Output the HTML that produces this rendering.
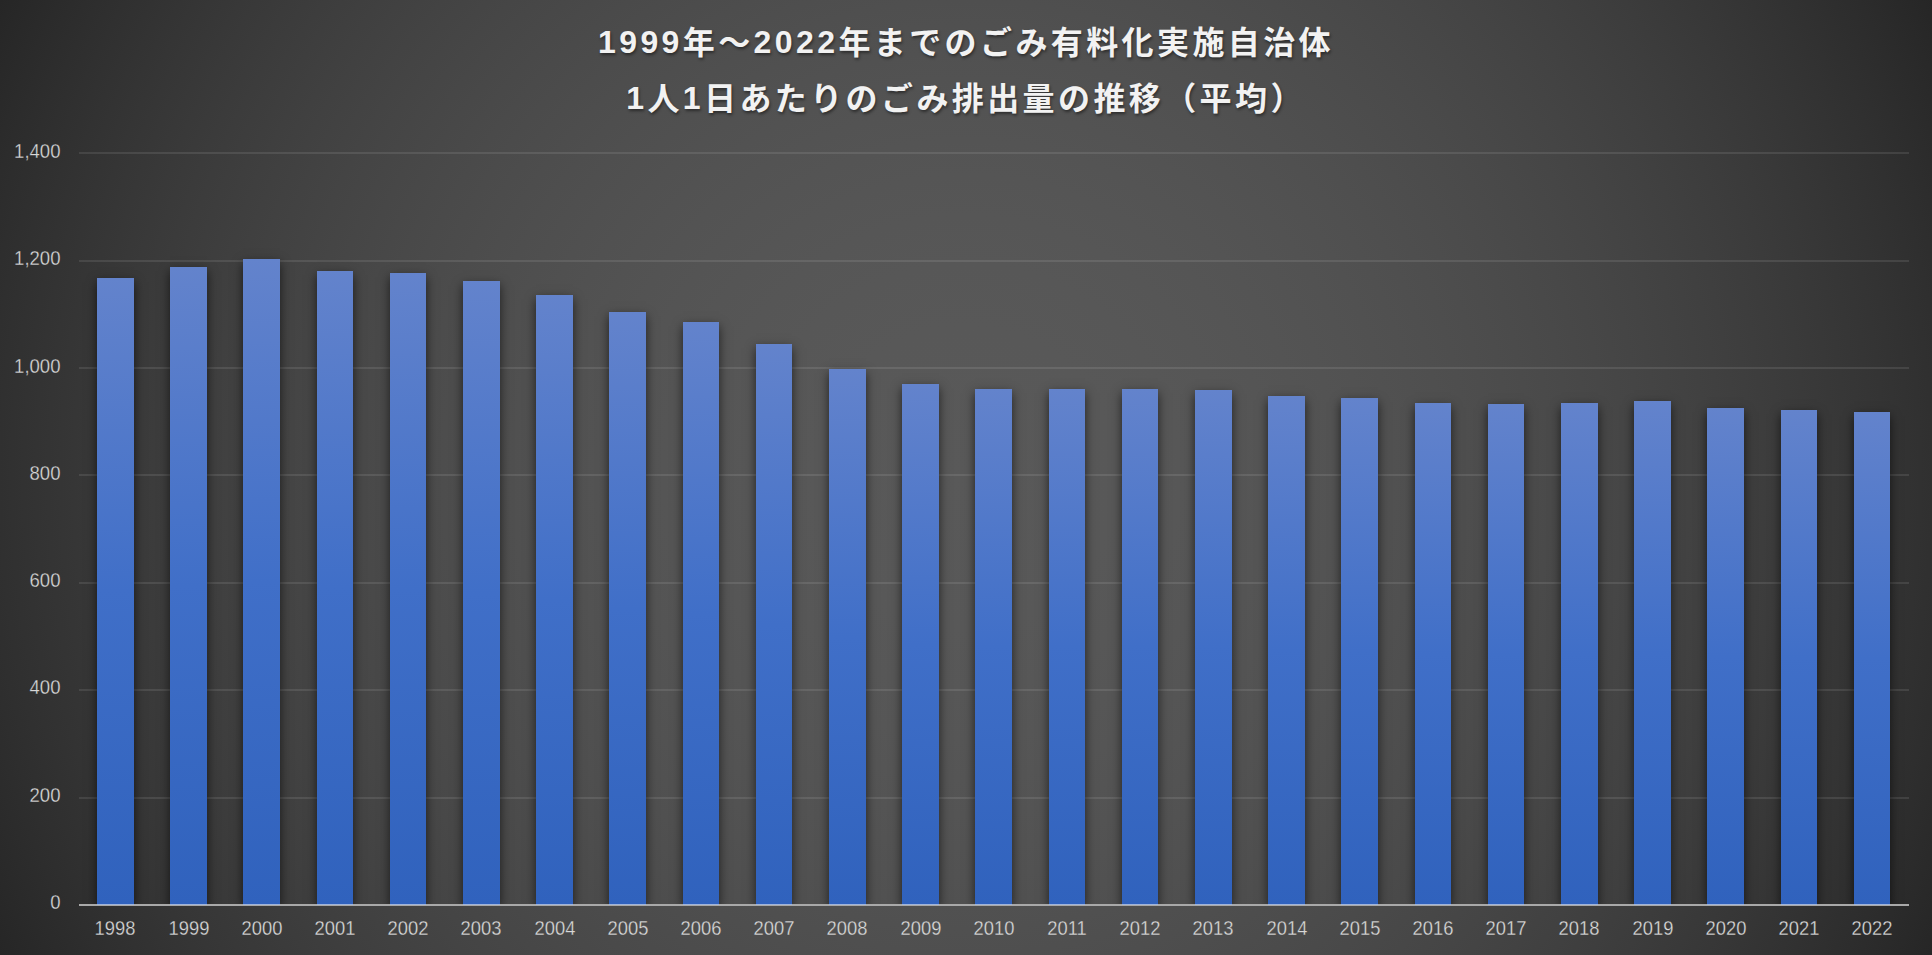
<!DOCTYPE html>
<html lang="ja">
<head>
<meta charset="utf-8">
<title>1999年～2022年までのごみ有料化実施自治体 1人1日あたりのごみ排出量の推移（平均）</title>
<style>
html,body{margin:0;padding:0;}
body{width:1932px;height:955px;overflow:hidden;background:#262626;font-family:"Liberation Sans","Noto Sans CJK JP",sans-serif;}
#chart{position:absolute;left:0;top:0;width:1932px;height:955px;overflow:hidden;
 background:radial-gradient(circle 1077.6px at 966px 477.5px, rgb(89,89,89) 0.0px, rgb(88,88,88) 150.9px, rgb(87,87,87) 213.4px, rgb(86,86,86) 261.3px, rgb(85,85,85) 301.8px, rgb(84,84,84) 337.4px, rgb(83,83,83) 369.6px, rgb(82,82,82) 399.2px, rgb(81,81,81) 426.8px, rgb(80,80,80) 452.7px, rgb(79,79,79) 477.2px, rgb(78,78,78) 500.4px, rgb(77,77,77) 522.7px, rgb(76,76,76) 544.0px, rgb(75,75,75) 564.6px, rgb(74,74,74) 584.4px, rgb(73,73,73) 603.6px, rgb(72,72,72) 622.1px, rgb(71,71,71) 640.2px, rgb(70,70,70) 657.7px, rgb(69,69,69) 674.8px, rgb(68,68,68) 691.5px, rgb(67,67,67) 707.7px, rgb(66,66,66) 723.6px, rgb(65,65,65) 739.2px, rgb(64,64,64) 754.5px, rgb(63,63,63) 769.4px, rgb(62,62,62) 784.0px, rgb(61,61,61) 798.4px, rgb(60,60,60) 812.6px, rgb(59,59,59) 826.5px, rgb(58,58,58) 840.1px, rgb(57,57,57) 853.6px, rgb(56,56,56) 866.8px, rgb(55,55,55) 879.8px, rgb(54,54,54) 892.7px, rgb(53,53,53) 905.3px, rgb(52,52,52) 917.8px, rgb(51,51,51) 930.2px, rgb(50,50,50) 942.3px, rgb(49,49,49) 954.3px, rgb(48,48,48) 966.2px, rgb(47,47,47) 977.9px, rgb(46,46,46) 989.5px, rgb(45,45,45) 1000.9px, rgb(44,44,44) 1012.2px, rgb(43,43,43) 1023.4px, rgb(42,42,42) 1034.5px, rgb(41,41,41) 1045.4px, rgb(40,40,40) 1056.2px, rgb(39,39,39) 1067.0px, rgb(38,38,38) 1077.6px);}
.grid{position:absolute;left:79px;width:1830px;height:2px;background:rgba(242,242,242,0.10);}
#plot{position:absolute;left:0;top:0;width:1932px;height:905px;overflow:hidden;}
.bar{position:absolute;background:linear-gradient(to bottom,#6383cc 0%,#406fc8 50%,#3062bd 100%);
 box-shadow:0 4px 10px rgba(0,0,0,0.62);}
.title b{position:relative;top:-1px;font-weight:bold;}
.foot{position:absolute;top:904px;height:1px;background:#9fb4dd;}
.axis{position:absolute;left:79px;top:904px;width:1830px;height:2px;background:#a9a9a9;}
.yl{position:absolute;left:0;width:60.5px;text-align:right;font-size:18px;line-height:20px;height:20px;color:#d8d8d8;transform:scale(1.03,1.12);transform-origin:100% 50%;white-space:nowrap;}
.xl{position:absolute;top:918px;width:74px;text-align:center;font-size:18px;line-height:20px;height:20px;color:#d8d8d8;transform:scale(1.02,1.12);transform-origin:50% 50%;white-space:nowrap;}
.title{position:absolute;left:0;width:1932px;text-align:center;font-weight:bold;font-size:32px;line-height:40px;height:40px;letter-spacing:3.4px;color:#f2f2f2;white-space:nowrap;
 text-shadow:1px 2px 3px rgba(0,0,0,0.45);}
</style>
</head>
<body>
<div id="chart">
<div class="grid" style="top:152px"></div>
<div class="grid" style="top:260px"></div>
<div class="grid" style="top:367px"></div>
<div class="grid" style="top:474px"></div>
<div class="grid" style="top:582px"></div>
<div class="grid" style="top:689px"></div>
<div class="grid" style="top:797px"></div>
<div id="plot">
<div class="bar" style="left:97px;top:278px;width:37px;height:627px"></div>
<div class="bar" style="left:170px;top:267px;width:37px;height:638px"></div>
<div class="bar" style="left:243px;top:259px;width:37px;height:646px"></div>
<div class="bar" style="left:317px;top:271px;width:36px;height:634px"></div>
<div class="bar" style="left:390px;top:273px;width:36px;height:632px"></div>
<div class="bar" style="left:463px;top:281px;width:37px;height:624px"></div>
<div class="bar" style="left:536px;top:295px;width:37px;height:610px"></div>
<div class="bar" style="left:609px;top:312px;width:37px;height:593px"></div>
<div class="bar" style="left:683px;top:322px;width:36px;height:583px"></div>
<div class="bar" style="left:756px;top:344px;width:36px;height:561px"></div>
<div class="bar" style="left:829px;top:369px;width:37px;height:536px"></div>
<div class="bar" style="left:902px;top:384px;width:37px;height:521px"></div>
<div class="bar" style="left:975px;top:389px;width:37px;height:516px"></div>
<div class="bar" style="left:1049px;top:389px;width:36px;height:516px"></div>
<div class="bar" style="left:1122px;top:389px;width:36px;height:516px"></div>
<div class="bar" style="left:1195px;top:390px;width:37px;height:515px"></div>
<div class="bar" style="left:1268px;top:396px;width:37px;height:509px"></div>
<div class="bar" style="left:1341px;top:398px;width:37px;height:507px"></div>
<div class="bar" style="left:1415px;top:403px;width:36px;height:502px"></div>
<div class="bar" style="left:1488px;top:404px;width:36px;height:501px"></div>
<div class="bar" style="left:1561px;top:403px;width:37px;height:502px"></div>
<div class="bar" style="left:1634px;top:401px;width:37px;height:504px"></div>
<div class="bar" style="left:1707px;top:408px;width:37px;height:497px"></div>
<div class="bar" style="left:1781px;top:410px;width:36px;height:495px"></div>
<div class="bar" style="left:1854px;top:412px;width:36px;height:493px"></div>
</div>
<div class="axis"></div>
<div class="foot" style="left:97px;width:37px"></div>
<div class="foot" style="left:170px;width:37px"></div>
<div class="foot" style="left:243px;width:37px"></div>
<div class="foot" style="left:317px;width:36px"></div>
<div class="foot" style="left:390px;width:36px"></div>
<div class="foot" style="left:463px;width:37px"></div>
<div class="foot" style="left:536px;width:37px"></div>
<div class="foot" style="left:609px;width:37px"></div>
<div class="foot" style="left:683px;width:36px"></div>
<div class="foot" style="left:756px;width:36px"></div>
<div class="foot" style="left:829px;width:37px"></div>
<div class="foot" style="left:902px;width:37px"></div>
<div class="foot" style="left:975px;width:37px"></div>
<div class="foot" style="left:1049px;width:36px"></div>
<div class="foot" style="left:1122px;width:36px"></div>
<div class="foot" style="left:1195px;width:37px"></div>
<div class="foot" style="left:1268px;width:37px"></div>
<div class="foot" style="left:1341px;width:37px"></div>
<div class="foot" style="left:1415px;width:36px"></div>
<div class="foot" style="left:1488px;width:36px"></div>
<div class="foot" style="left:1561px;width:37px"></div>
<div class="foot" style="left:1634px;width:37px"></div>
<div class="foot" style="left:1707px;width:37px"></div>
<div class="foot" style="left:1781px;width:36px"></div>
<div class="foot" style="left:1854px;width:36px"></div>
<div class="yl" style="top:141px;-webkit-text-stroke:0.25px rgb(47,47,47)">1,400</div>
<div class="yl" style="top:248px;-webkit-text-stroke:0.25px rgb(49,49,49)">1,200</div>
<div class="yl" style="top:356px;-webkit-text-stroke:0.25px rgb(51,51,51)">1,000</div>
<div class="yl" style="top:463px;-webkit-text-stroke:0.25px rgb(51,51,51)">800</div>
<div class="yl" style="top:570px;-webkit-text-stroke:0.25px rgb(51,51,51)">600</div>
<div class="yl" style="top:677px;-webkit-text-stroke:0.25px rgb(49,49,49)">400</div>
<div class="yl" style="top:785px;-webkit-text-stroke:0.25px rgb(47,47,47)">200</div>
<div class="yl" style="top:892px;-webkit-text-stroke:0.25px rgb(43,43,43)">0</div>
<div class="xl" style="left:78.3px;-webkit-text-stroke:0.25px rgb(48,48,48)">1998</div>
<div class="xl" style="left:151.5px;-webkit-text-stroke:0.25px rgb(54,54,54)">1999</div>
<div class="xl" style="left:224.7px;-webkit-text-stroke:0.25px rgb(58,58,58)">2000</div>
<div class="xl" style="left:297.9px;-webkit-text-stroke:0.25px rgb(63,63,63)">2001</div>
<div class="xl" style="left:371.1px;-webkit-text-stroke:0.25px rgb(66,66,66)">2002</div>
<div class="xl" style="left:444.3px;-webkit-text-stroke:0.25px rgb(70,70,70)">2003</div>
<div class="xl" style="left:517.5px;-webkit-text-stroke:0.25px rgb(73,73,73)">2004</div>
<div class="xl" style="left:590.7px;-webkit-text-stroke:0.25px rgb(75,75,75)">2005</div>
<div class="xl" style="left:663.9px;-webkit-text-stroke:0.25px rgb(77,77,77)">2006</div>
<div class="xl" style="left:737.1px;-webkit-text-stroke:0.25px rgb(78,78,78)">2007</div>
<div class="xl" style="left:810.3px;-webkit-text-stroke:0.25px rgb(79,79,79)">2008</div>
<div class="xl" style="left:883.5px;-webkit-text-stroke:0.25px rgb(80,80,80)">2009</div>
<div class="xl" style="left:956.7px;-webkit-text-stroke:0.25px rgb(80,80,80)">2010</div>
<div class="xl" style="left:1029.9px;-webkit-text-stroke:0.25px rgb(80,80,80)">2011</div>
<div class="xl" style="left:1103.1px;-webkit-text-stroke:0.25px rgb(79,79,79)">2012</div>
<div class="xl" style="left:1176.3px;-webkit-text-stroke:0.25px rgb(77,77,77)">2013</div>
<div class="xl" style="left:1249.5px;-webkit-text-stroke:0.25px rgb(76,76,76)">2014</div>
<div class="xl" style="left:1322.7px;-webkit-text-stroke:0.25px rgb(73,73,73)">2015</div>
<div class="xl" style="left:1395.9px;-webkit-text-stroke:0.25px rgb(71,71,71)">2016</div>
<div class="xl" style="left:1469.1px;-webkit-text-stroke:0.25px rgb(67,67,67)">2017</div>
<div class="xl" style="left:1542.3px;-webkit-text-stroke:0.25px rgb(64,64,64)">2018</div>
<div class="xl" style="left:1615.5px;-webkit-text-stroke:0.25px rgb(59,59,59)">2019</div>
<div class="xl" style="left:1688.7px;-webkit-text-stroke:0.25px rgb(55,55,55)">2020</div>
<div class="xl" style="left:1761.9px;-webkit-text-stroke:0.25px rgb(50,50,50)">2021</div>
<div class="xl" style="left:1835.1px;-webkit-text-stroke:0.25px rgb(44,44,44)">2022</div>
<div class="title" style="top:23px"><b>1999</b>年～<b>2022</b>年までのごみ有料化実施自治体</div>
<div class="title" style="top:79px"><b>1</b>人<b>1</b>日あたりのごみ排出量の推移（平均）</div>
</div>
</body>
</html>
